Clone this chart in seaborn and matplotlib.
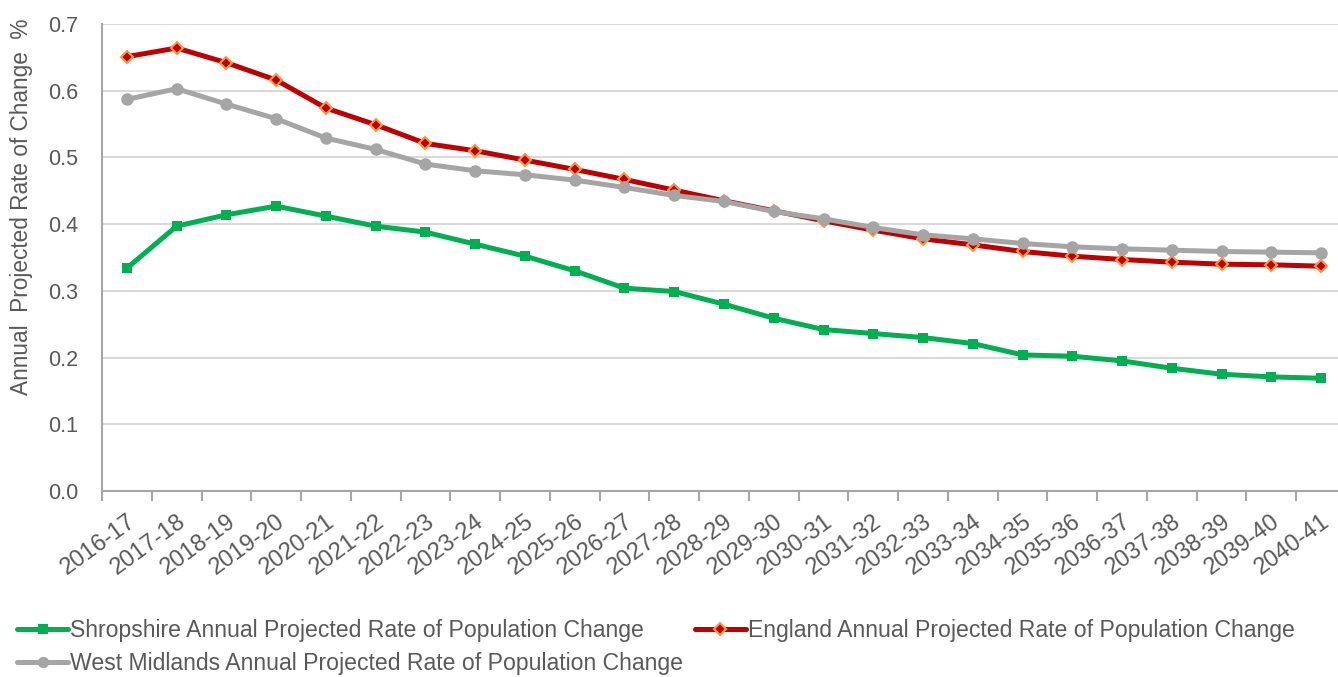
import pandas as pd
import matplotlib.pyplot as plt
import seaborn as sns
from matplotlib.ticker import FormatStrFormatter, FixedLocator

# Periodos (años fiscales)
years = ["2016-17", "2017-18", "2018-19", "2019-20", "2020-21", "2021-22", "2022-23",
         "2023-24", "2024-25", "2025-26", "2026-27", "2027-28", "2028-29", "2029-30",
         "2030-31", "2031-32", "2032-33", "2033-34", "2034-35", "2035-36", "2036-37",
         "2037-38", "2038-39", "2039-40", "2040-41"]

shropshire = [0.334, 0.397, 0.414, 0.427, 0.412, 0.397, 0.388, 0.370, 0.352, 0.330,
              0.304, 0.299, 0.280, 0.259, 0.242, 0.236, 0.230, 0.221, 0.204, 0.202,
              0.195, 0.184, 0.175, 0.171, 0.169]
england = [0.651, 0.664, 0.642, 0.616, 0.574, 0.549, 0.521, 0.510, 0.496, 0.482,
           0.467, 0.451, 0.435, 0.420, 0.405, 0.391, 0.378, 0.369, 0.359, 0.352,
           0.347, 0.343, 0.340, 0.339, 0.337]
west_midlands = [0.587, 0.603, 0.580, 0.558, 0.529, 0.512, 0.490, 0.480, 0.474, 0.466,
                 0.455, 0.443, 0.434, 0.419, 0.408, 0.395, 0.384, 0.378, 0.371, 0.366,
                 0.363, 0.361, 0.359, 0.358, 0.357]

labels = ["Shropshire Annual Projected Rate of Population Change",
          "England Annual Projected Rate of Population Change",
          "West Midlands Annual Projected Rate of Population Change"]

df = pd.DataFrame({"periodo": years, "shrop": shropshire, "eng": england, "wm": west_midlands})
df["pos"] = range(len(years))

sns.set_style("white")
plt.rcParams["font.family"] = ["Liberation Sans", "DejaVu Sans"]
text_color = "#595959"
fs = 16.6

fig = plt.figure(figsize=(13.38, 6.77), dpi=100)
ax = fig.add_axes([102 / 1338, 186 / 677, 1236 / 1338, 467 / 677])

sns.lineplot(x="pos", y="shrop", data=df, ax=ax, color="#00b050", linewidth=3.6,
             marker="s", markersize=7.5, markeredgewidth=0, label=labels[0], zorder=3)
sns.lineplot(x="pos", y="eng", data=df, ax=ax, color="#c00000", linewidth=3.6,
             marker="D", markersize=6.5, markerfacecolor="#c00000",
             markeredgecolor="#f79646", markeredgewidth=1.5, label=labels[1], zorder=4)
sns.lineplot(x="pos", y="wm", data=df, ax=ax, color="#a5a5a5", linewidth=3.6,
             marker="o", markersize=9, markeredgewidth=0, label=labels[2], zorder=5)

# Ejes y rejilla
ax.set_xlim(-0.5, 24.5 - 8 / 49.75)
ax.set_ylim(0, 0.7)
ax.set_yticks([i / 10 for i in range(8)])
ax.yaxis.set_major_formatter(FormatStrFormatter("%.1f"))
ax.grid(axis="y", color="#d9d9d9", linewidth=1.5)
ax.set_axisbelow(True)
for side in ["top", "right"]:
    ax.spines[side].set_visible(False)
for side in ["left", "bottom"]:
    ax.spines[side].set_color("#a6a6a6")
    ax.spines[side].set_linewidth(1.5)

ax.set_xticks(df["pos"])
ax.set_xticklabels(years, rotation=36, ha="right", rotation_mode="anchor")
ax.xaxis.set_minor_locator(FixedLocator([i - 0.5 for i in range(len(years) + 1)]))
ax.tick_params(axis="x", which="major", length=0, pad=14, labelsize=17, labelcolor=text_color)
ax.tick_params(axis="x", which="minor", bottom=True, length=7, width=1.5, color="#a6a6a6")
ax.tick_params(axis="y", length=0, pad=17, labelsize=15.5, labelcolor=text_color)

ax.set_xlabel("")
ax.set_ylabel("Annual  Projected Rate of Change  %", fontsize=16.3, color=text_color, va="center")
ax.yaxis.set_label_coords(-0.065, 0.608)

# Leyenda debajo del gráfico
handles, lbls = ax.get_legend_handles_labels()
ax.get_legend().remove()
order = [0, 2, 1]
fig.legend([handles[i] for i in order], [lbls[i] for i in order],
           loc="upper left", bbox_to_anchor=(0.013, 0.085), ncol=2, frameon=False,
           fontsize=fs, labelcolor=text_color, handlelength=2.2, handletextpad=0.1,
           columnspacing=0.5, borderpad=0, borderaxespad=0, labelspacing=0.4,
           markerscale=0.9)

fig.savefig("out.png", dpi=100)
